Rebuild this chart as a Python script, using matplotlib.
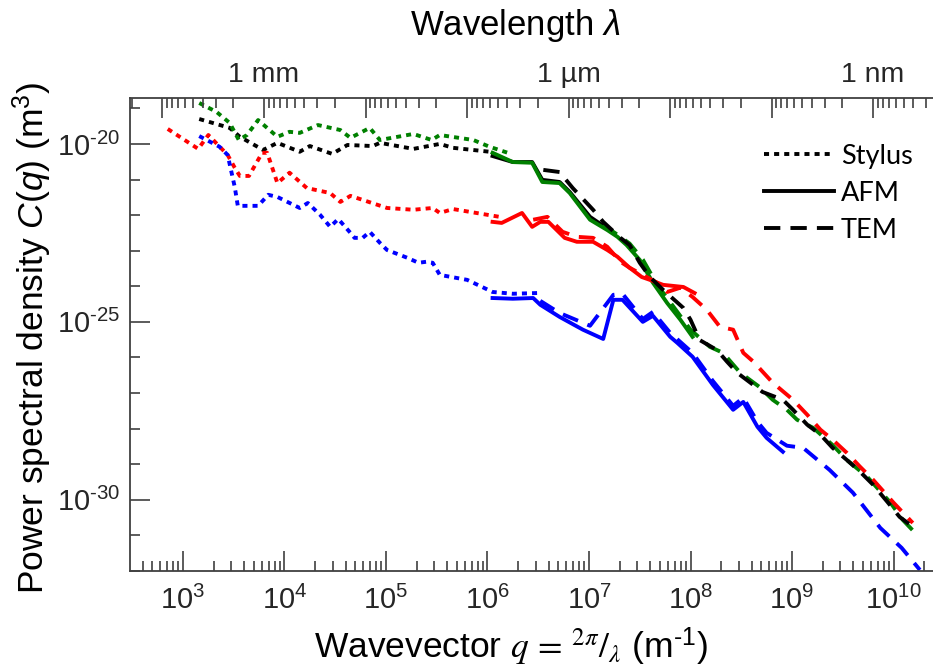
import numpy as np
import matplotlib
matplotlib.use("Agg")
import matplotlib.pyplot as plt
from matplotlib.lines import Line2D
from matplotlib.ticker import FixedLocator, LogLocator, FuncFormatter, NullFormatter

plt.rcParams['font.family'] = ['Liberation Sans', 'DejaVu Sans']
plt.rcParams['mathtext.fontset'] = 'custom'
plt.rcParams['mathtext.rm'] = 'Liberation Sans'
plt.rcParams['mathtext.it'] = 'Liberation Sans:italic'
plt.rcParams['mathtext.bf'] = 'Liberation Sans:bold'

# values, in log10 units: q in 1/m, C in m^3
# black sample
blk_sty_q = [3.16, 3.46, 3.56, 3.79, 3.93, 4.15, 4.25, 4.47, 4.62, 4.87, 4.94, 5.27, 5.53, 5.66, 6.02, 6.05]
blk_sty_c = [-19.30, -19.55, -19.80, -20.17, -19.97, -20.22, -20.06, -20.28, -20.03, -20.06, -19.97, -20.14, -20.00, -20.11, -20.22, -20.25]
blk_afm_q = [6.05, 6.25, 6.44, 6.54, 6.71, 6.81, 7.01, 7.18]
blk_afm_c = [-20.34, -20.51, -20.51, -21.01, -21.07, -21.35, -22.05, -22.38]
blk_tem_q = [6.55, 6.71, 6.84, 7.04, 7.14, 7.31, 7.40, 7.50, 7.60, 7.73, 7.93, 8.00, 8.09, 8.26, 8.36, 8.46,
             8.59, 8.71, 8.91, 9.01, 9.15, 9.28, 9.40, 9.54, 9.67, 9.80, 9.94, 10.06, 10.23]
blk_tem_c = [-20.73, -20.79, -21.24, -21.85, -22.19, -22.64, -22.84, -23.34, -23.74, -24.10, -24.61, -24.94, -25.51,
             -25.79, -26.12, -26.43, -26.71, -26.97, -27.19, -27.47, -27.89, -28.17, -28.54, -28.88, -29.21, -29.58,
             -30.06, -30.48, -30.84]

# green sample
grn_sty_q = [3.16, 3.33, 3.46, 3.55, 3.63, 3.74, 3.93, 4.05, 4.15, 4.33, 4.55, 4.65, 4.84, 4.94, 5.27, 5.45, 5.53, 5.86, 6.02, 6.20]
grn_sty_c = [-18.85, -19.10, -19.41, -19.89, -19.75, -19.33, -19.80, -19.66, -19.69, -19.47, -19.61, -19.83, -19.55, -19.89,
             -19.72, -19.89, -19.75, -19.89, -20.08, -20.25]
grn_afm_q = [6.05, 6.25, 6.44, 6.54, 6.71, 6.81, 7.01, 7.18, 7.28, 7.37, 7.50, 7.63, 7.77, 7.90, 8.02]
grn_afm_c = [-20.25, -20.51, -20.53, -21.07, -21.10, -21.38, -22.13, -22.42, -22.61, -22.84, -23.26, -23.90, -24.47, -24.94, -25.42]
grn_tem_q = [7.14, 7.28, 7.40, 7.53, 7.67, 7.80, 8.00, 8.19, 8.32, 8.49, 8.68, 8.81, 8.95, 9.05, 9.21, 9.40, 9.54, 9.74,
             9.97, 10.09, 10.23]
grn_tem_c = [-22.28, -22.55, -22.80, -23.25, -23.95, -24.45, -25.22, -25.70, -25.87, -26.43, -26.83, -27.19, -27.47, -27.75,
             -27.98, -28.46, -28.88, -29.35, -30.08, -30.56, -30.98]

# red sample
red_sty_q = [2.85, 3.15, 3.25, 3.44, 3.51, 3.56, 3.65, 3.78, 3.83, 3.93, 4.05, 4.22, 4.45, 4.55, 4.65, 5.01, 5.27, 5.46, 5.53, 5.66, 6.12]
red_sty_c = [-19.58, -20.14, -19.75, -20.31, -20.67, -20.90, -20.90, -20.25, -20.25, -21.10, -20.81, -21.24, -21.38, -21.63,
             -21.46, -21.80, -21.85, -21.80, -21.94, -21.83, -22.05]
red_afm_q = [6.05, 6.14, 6.34, 6.44, 6.52, 6.60, 6.76, 6.88, 7.04, 7.18, 7.28, 7.40, 7.52, 7.60, 7.73, 7.93, 8.04]
red_afm_c = [-22.19, -22.22, -21.94, -22.33, -22.19, -22.19, -22.64, -22.75, -22.75, -22.98, -23.17, -23.48, -23.74, -23.82,
             -23.96, -24.02, -24.19]
red_tem_q = [6.45, 6.59, 6.74, 6.88, 7.04, 7.18, 7.31, 7.40, 7.53, 7.67, 7.77, 7.90, 8.02, 8.16, 8.29, 8.42, 8.52, 8.62,
             8.81, 9.01, 9.15, 9.28, 9.40, 9.54, 9.67, 9.80, 10.00, 10.19]
red_tem_c = [-22.13, -22.05, -22.47, -22.61, -22.64, -22.89, -23.31, -23.48, -23.68, -23.90, -24.16, -24.04, -24.30, -24.66,
             -25.14, -25.22, -25.87, -26.12, -26.71, -27.19, -27.61, -28.03, -28.31, -28.68, -29.07, -29.44, -30.08, -30.65]

# blue sample
blu_sty_q = [3.16, 3.36, 3.44, 3.51, 3.54, 3.74, 3.84, 3.93, 4.15, 4.23, 4.35, 4.45, 4.53, 4.65, 4.69, 4.77, 4.84, 4.94,
             5.01, 5.21, 5.32, 5.40, 5.46, 5.53, 5.80, 6.05, 6.25, 6.49]
blu_sty_c = [-19.78, -20.08, -20.31, -21.21, -21.74, -21.74, -21.43, -21.49, -21.80, -21.66, -21.99, -22.33, -22.11, -22.50,
             -22.64, -22.64, -22.47, -22.78, -22.98, -23.20, -23.34, -23.31, -23.34, -23.68, -23.82, -24.16, -24.21, -24.19]
blu_afm_q = [6.05, 6.25, 6.45, 6.52, 6.71, 6.94, 7.14, 7.24, 7.33, 7.53, 7.63, 7.80, 7.87, 8.02, 8.22, 8.42, 8.52, 8.66, 8.75, 8.91]
blu_afm_c = [-24.33, -24.35, -24.33, -24.52, -24.86, -25.22, -25.48, -24.38, -24.38, -25.00, -24.83, -25.42, -25.59, -25.98,
             -26.77, -27.47, -27.25, -27.95, -28.26, -28.65]
blu_tem_q = [6.52, 6.71, 7.01, 7.24, 7.33, 7.53, 7.63, 7.80, 8.02, 8.22, 8.42, 8.52, 8.66, 8.75, 8.95, 9.11, 9.37, 9.60,
             9.87, 10.08, 10.26]
blu_tem_c = [-24.41, -24.75, -25.11, -24.24, -24.21, -24.92, -24.72, -25.31, -25.87, -26.66, -27.36, -27.13, -27.81, -28.12,
             -28.48, -28.54, -29.16, -29.80, -30.79, -31.35, -31.97]

series = [
    ('black', blk_sty_q, blk_sty_c, blk_afm_q, blk_afm_c, blk_tem_q, blk_tem_c),
    ('#008000', grn_sty_q, grn_sty_c, grn_afm_q, grn_afm_c, grn_tem_q, grn_tem_c),
    ('red', red_sty_q, red_sty_c, red_afm_q, red_afm_c, red_tem_q, red_tem_c),
    ('blue', blu_sty_q, blu_sty_c, blu_afm_q, blu_afm_c, blu_tem_q, blu_tem_c),
]

dotted = (0, (1.3, 1.3))
dashed = (0, (4.2, 2.6))
lw = 2.8
gray = '#404040'
hyph = '\u2010'


def pow10(v, p):
    n = int(round(np.log10(v)))
    sgn = hyph if n < 0 else ''
    return r'$\mathregular{10^{%s%d}}$' % (sgn, abs(n))


fig = plt.figure(figsize=(9.33, 6.67), dpi=100)
ax = fig.add_axes([130/933, 1-571/667, 803/933, 473/667])

for col, sq, sc, aq, ac, tq, tc in series:
    ax.plot(10.0**np.array(sq), 10.0**np.array(sc), color=col, lw=lw, ls=dotted)
for col, sq, sc, aq, ac, tq, tc in series:
    ax.plot(10.0**np.array(aq), 10.0**np.array(ac), color=col, lw=lw, ls='-')
for col, sq, sc, aq, ac, tq, tc in [series[1], series[2], series[0], series[3]]:
    ax.plot(10.0**np.array(tq), 10.0**np.array(tc), color=col, lw=lw, ls=dashed)

xlim = (10**2.478, 10**10.389)
ax.set_xscale('log')
ax.set_yscale('log')
ax.set_xlim(xlim)
ax.set_ylim(1e-32, 10**-18.71)

ax.xaxis.set_major_locator(FixedLocator(10.0**np.arange(3, 11)))
ax.xaxis.set_minor_locator(LogLocator(base=10, subs=np.arange(2, 10), numticks=60))
ax.xaxis.set_major_formatter(FuncFormatter(pow10))
ax.xaxis.set_minor_formatter(NullFormatter())
ax.yaxis.set_major_locator(FixedLocator([1e-30, 1e-25, 1e-20]))
ax.yaxis.set_minor_locator(FixedLocator(10.0**np.arange(-32, -18)))
ax.yaxis.set_major_formatter(FuncFormatter(pow10))
ax.yaxis.set_minor_formatter(NullFormatter())

ax.tick_params(which='both', direction='in', color=gray, width=1.2, labelsize=21, labelcolor='#262626',
               top=False, right=False)
ax.tick_params(which='major', length=14.5)
ax.tick_params(which='minor', length=7.5)
ax.tick_params(axis='x', pad=11)
ax.tick_params(axis='y', pad=7)
for s in ['left', 'bottom']:
    ax.spines[s].set_color(gray)
    ax.spines[s].set_linewidth(1.3)
ax.spines['right'].set_visible(False)
ax.spines['top'].set_visible(False)

# wavelength axis on top, lambda = 2 pi / q
lam_major = 10.0**np.arange(-2, -11, -1)
lam_minor = np.concatenate([m * 10.0**np.arange(-2, -12, -1) for m in range(2, 10)])
lam_text = {-3: '1 mm', -6: '1 µm', -9: '1 nm'}
ax2 = ax.twiny()
ax2.set_xscale('log')
ax2.set_xticks(2*np.pi/lam_major, labels=[lam_text.get(int(round(np.log10(v))), '') for v in lam_major])
ax2.set_xticks(2*np.pi/lam_minor, minor=True)
ax2.xaxis.set_minor_formatter(NullFormatter())
ax2.set_xlim(xlim)
ax2.tick_params(which='both', direction='in', color=gray, width=1.2, labelsize=20.5, labelcolor='#262626', pad=7)
ax2.tick_params(which='major', length=14.5)
ax2.tick_params(which='minor', length=7.5)
for s in ['left', 'right', 'bottom']:
    ax2.spines[s].set_visible(False)
ax2.spines['top'].set_color(gray)
ax2.spines['top'].set_linewidth(1.3)

fig.text(515/933, 1-26/667, r'Wavelength $\lambda$', ha='center', va='center', fontsize=25)
fig.text(511/933, 1-646/667, r'Wavevector $q\,=\,{}^{2\pi}/_{\lambda}$ (m$^{\mathregular{' + hyph + '1}}$)',
         ha='center', va='center', fontsize=25.5, math_fontfamily='stix')
fig.text(32/933, 1-338/667, r'Power spectral density $C(q)$ (m$^{3}$)', ha='center', va='center',
         rotation=90, fontsize=25.5)

handles = [Line2D([], [], color='black', lw=lw, ls=dotted),
           Line2D([], [], color='black', lw=lw, ls='-'),
           Line2D([], [], color='black', lw=lw, ls=dashed)]
ax.legend(handles, ['Stylus', 'AFM', 'TEM'], loc='upper left', bbox_to_anchor=(750/933, 1-130/667),
          bbox_transform=fig.transFigure, frameon=False, prop={'family': ['Lato', 'DejaVu Sans'], 'size': 19.5},
          handlelength=2.6, handletextpad=0.25, labelspacing=0.45, borderpad=0)

fig.savefig('out.png', dpi=100)
